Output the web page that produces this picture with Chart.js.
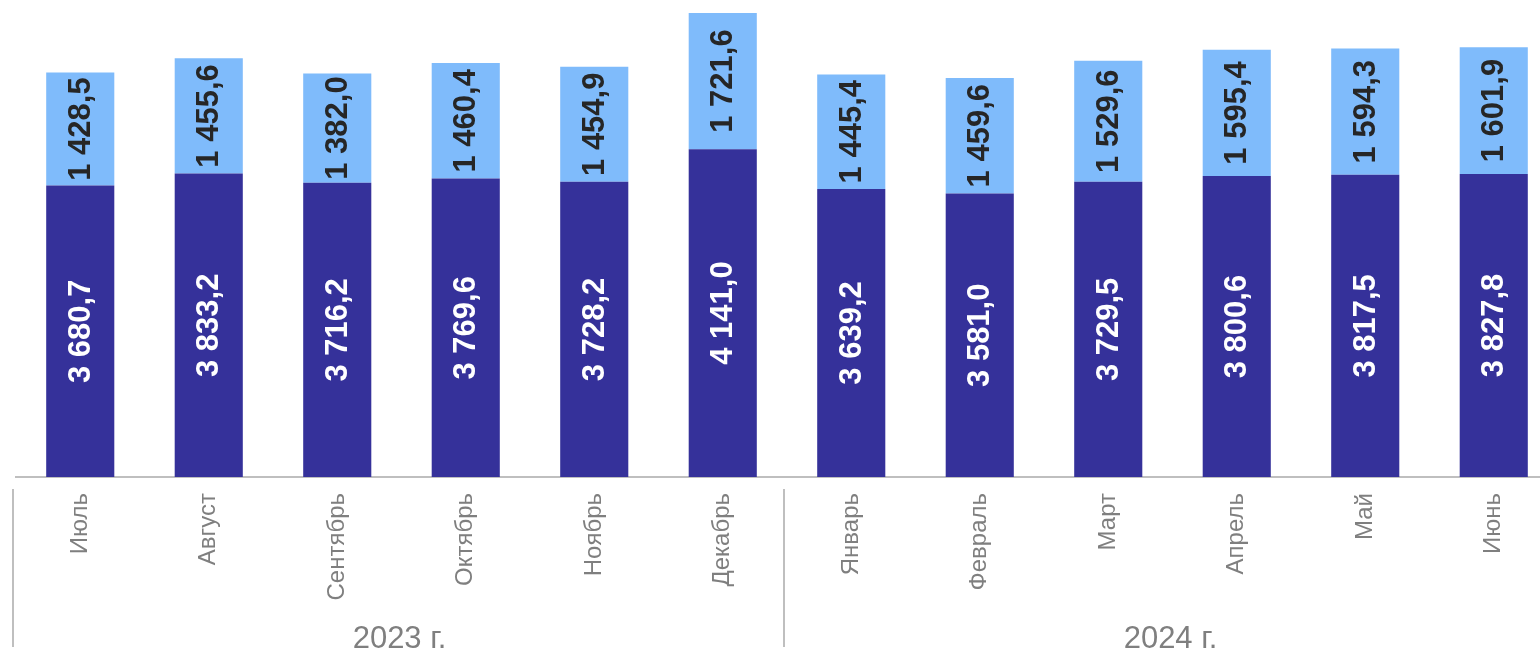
<!DOCTYPE html>
<html>
<head>
<meta charset="utf-8">
<script src="https://cdn.jsdelivr.net/npm/chart.js@4"></script>
<style>
  html, body { margin: 0; padding: 0; background: #fff; overflow: hidden; }
  #wrap { position: relative; width: 1558px; height: 651px; }
</style>
</head>
<body>
<div id="wrap"><canvas id="chart"></canvas></div>
<script>
// data
var months = ["Июль", "Август", "Сентябрь", "Октябрь", "Ноябрь", "Декабрь",
              "Январь", "Февраль", "Март", "Апрель", "Май", "Июнь"];
var lowerValues = [3680.7, 3833.2, 3716.2, 3769.6, 3728.2, 4141.0,
                   3639.2, 3581.0, 3729.5, 3800.6, 3817.5, 3827.8];
var upperValues = [1428.5, 1455.6, 1382.0, 1460.4, 1454.9, 1721.6,
                   1445.4, 1459.6, 1529.6, 1595.4, 1594.3, 1601.9];
var yearGroups = ["2023 г.", "2024 г."];
var groupSizes = [6, 6];

var FONT = "'Liberation Sans', Arial, sans-serif";

function fmt(v) {
  var parts = v.toFixed(1).split(".");
  var s = parts[0].replace(/\B(?=(\d{3})+(?!\d))/g, " ");
  return s + "," + parts[1];
}

// value labels inside the segments, rotated
var valueLabels = {
  id: "valueLabels",
  afterDatasetsDraw: function (chart) {
    var ctx = chart.ctx;
    chart.data.datasets.forEach(function (ds, di) {
      var meta = chart.getDatasetMeta(di);
      meta.data.forEach(function (bar, i) {
        var cy = (bar.y + bar.base) / 2;
        ctx.save();
        ctx.translate(bar.x, cy);
        ctx.rotate(-Math.PI / 2);
        ctx.font = "bold 31px " + FONT;
        ctx.fillStyle = ds.labelColor;
        ctx.textAlign = "center";
        ctx.textBaseline = "middle";
        ctx.fillText(fmt(ds.data[i]), 0, 1);
        ctx.restore();
      });
    });
  }
};

// year captions and separators below the month labels
var yearAxis = {
  id: "yearAxis",
  afterDraw: function (chart) {
    var ctx = chart.ctx;
    var x = chart.scales.x;
    var half = (x.getPixelForValue(1) - x.getPixelForValue(0)) / 2;
    var start = 0;
    ctx.save();
    ctx.strokeStyle = "#bfbfbf";
    ctx.lineWidth = 2;
    ctx.font = "31px " + FONT;
    ctx.fillStyle = "#7f7f7f";
    ctx.textAlign = "center";
    ctx.textBaseline = "alphabetic";
    yearGroups.forEach(function (g, gi) {
      var end = start + groupSizes[gi] - 1;
      var left = x.getPixelForValue(start) - half - 3;
      ctx.beginPath();
      ctx.moveTo(left, 489);
      ctx.lineTo(left, 647);
      ctx.stroke();
      var mid = (x.getPixelForValue(start) + x.getPixelForValue(end)) / 2;
      ctx.fillText(g, mid - 2, 648);
      start = end + 1;
    });
    ctx.restore();
  }
};

new Chart(document.getElementById("chart"), {
  type: "bar",
  data: {
    labels: months,
    datasets: [{
      data: lowerValues,
      backgroundColor: "#35319a",
      labelColor: "#ffffff",
      categoryPercentage: 1,
      barPercentage: 0.53
    }, {
      data: upperValues,
      backgroundColor: "#7fbbfb",
      labelColor: "#262626",
      categoryPercentage: 1,
      barPercentage: 0.53
    }]
  },
  options: {
    responsive: true,
    maintainAspectRatio: false,
    animation: false,
    layout: { padding: { top: 2, left: 16, right: 0, bottom: 0 } },
    plugins: { legend: { display: false }, tooltip: { enabled: false } },
    scales: {
      x: {
        stacked: true,
        grid: { display: false, drawTicks: false },
        border: { display: true, color: "#bfbfbf", width: 2 },
        ticks: {
          minRotation: 90,
          maxRotation: 90,
          padding: 16,
          color: "#7f7f7f",
          font: { family: FONT, size: 24 }
        },
        afterFit: function (s) { s.height = 174; }
      },
      y: {
        stacked: true,
        display: false,
        min: 0,
        max: 6000
      }
    }
  },
  plugins: [valueLabels, yearAxis]
});
</script>
</body>
</html>
